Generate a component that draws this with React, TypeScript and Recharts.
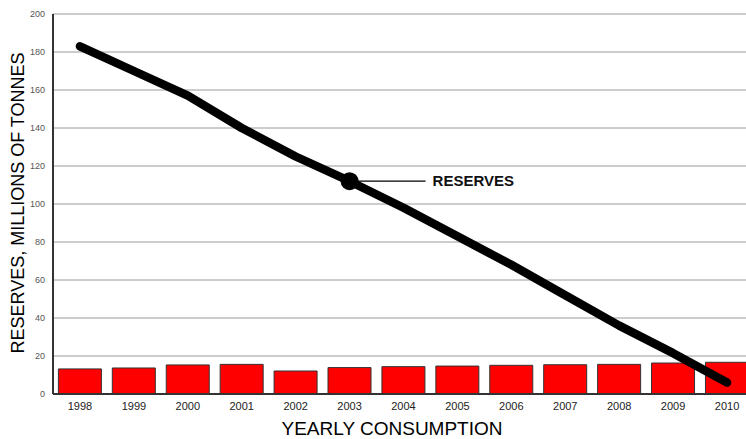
import React from "react";
import { ComposedChart, Bar, Line, XAxis, YAxis, CartesianGrid } from "recharts";

const years = ["1998", "1999", "2000", "2001", "2002", "2003", "2004", "2005", "2006", "2007", "2008", "2009", "2010"];
const reserves = [183, 170, 157, 140, 125, 112, 98, 83, 68, 52, 36, 21.5, 6];
const consumption = [13.2, 13.7, 15.3, 15.6, 12.1, 13.9, 14.4, 14.7, 15.1, 15.4, 15.6, 16.3, 16.7];
const yTicks = [0, 20, 40, 60, 80, 100, 120, 140, 160, 180, 200];
const annotationYear = "2003";
const annotationText = "RESERVES";

const data = years.map((y, i) => ({ year: y, reserves: reserves[i], consumption: consumption[i] }));

const font = "Arial, 'Liberation Sans', sans-serif";

const ReserveDot = (props: any) => {
  const { cx, cy, payload, index } = props;
  if (!payload || payload.year !== annotationYear) return <g key={`d${index}`} />;
  return (
    <g key={`d${index}`}>
      <circle cx={cx} cy={cy} r={9} fill="#000" />
      <line x1={cx} y1={cy} x2={cx + 76} y2={cy} stroke="#000" strokeWidth={1.2} />
      <text x={cx + 83} y={cy} dy="0.35em" fontFamily={font} fontWeight="bold" fontSize={15} fill="#111">
        {annotationText}
      </text>
    </g>
  );
};

const YLabel = (props: any) => {
  const { viewBox } = props;
  const cy = viewBox.y + viewBox.height / 2 - 1;
  return (
    <text x={18} y={cy} transform={`rotate(-90, 18, ${cy})`} textAnchor="middle" dominantBaseline="central" fontFamily={font} fontSize={18} fill="#000">
      RESERVES, MILLIONS OF TONNES
    </text>
  );
};

const XLabel = () => (
  <text x={392} y={435} textAnchor="middle" fontFamily={font} fontSize={19} fill="#000">
    YEARLY CONSUMPTION
  </text>
);

export default function App() {
  return (
    <div style={{ position: "absolute", left: 0, top: 0, width: 746, height: 439, overflow: "hidden", background: "#fff" }}>
      <ComposedChart width={754} height={439} data={data} margin={{ top: 14, right: 0, bottom: 0, left: 0 }} barCategoryGap="10%">
        <CartesianGrid vertical={false} stroke="#9a9a9a" strokeWidth={1} />
        <XAxis
          dataKey="year"
          height={45}
          tickLine={false}
          tickSize={6}
          tickMargin={2}
          axisLine={{ stroke: "#333", strokeWidth: 2 }}
          tick={{ fontFamily: font, fontSize: 11, fill: "#222" }}
          interval={0}
          label={<XLabel />}
        />
        <YAxis
          width={53}
          domain={[0, 200]}
          ticks={yTicks}
          tickLine={false}
          tickSize={6}
          tickMargin={2}
          axisLine={{ stroke: "#333", strokeWidth: 2 }}
          tick={{ fontFamily: font, fontSize: 9, fill: "#555" }}
          label={<YLabel />}
        />
        <Bar dataKey="consumption" fill="#ff0000" stroke="#333" strokeWidth={1} isAnimationActive={false} />
        <Line
          dataKey="reserves"
          type="linear"
          stroke="#000"
          strokeWidth={8.5}
          strokeLinecap="round"
          strokeLinejoin="round"
          dot={ReserveDot}
          activeDot={false}
          isAnimationActive={false}
        />
      </ComposedChart>
    </div>
  );
}
